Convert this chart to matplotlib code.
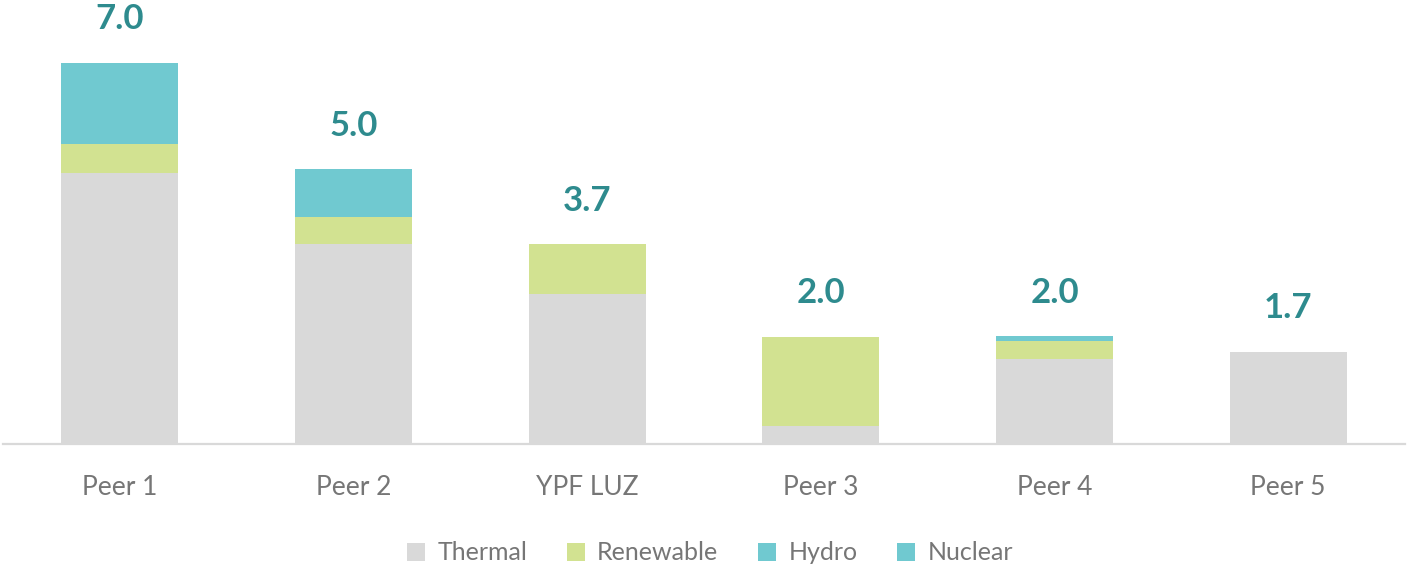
import matplotlib
matplotlib.use("Agg")
import matplotlib.pyplot as plt
import numpy as np

# data ---------------------------------------------------------------------
companies = ["Peer 1", "Peer 2", "YPF LUZ", "Peer 3", "Peer 4", "Peer 5"]
thermal = [4.98, 3.66, 2.74, 0.32, 1.55, 1.69]
renewable = [0.53, 0.50, 0.92, 1.64, 0.33, 0.0]
hydro = [1.49, 0.88, 0.0, 0.0, 0.09, 0.0]
nuclear = [0.0, 0.0, 0.0, 0.0, 0.0, 0.0]

# style --------------------------------------------------------------------
plt.rcParams["font.family"] = ["Lato", "DejaVu Sans"]
c_thermal = "#D9D9D9"
c_renew = "#D2E291"
c_hydro = "#70C9D0"
c_label = "#2E8B8E"
c_text = "#767676"

fig = plt.figure(figsize=(14.11, 5.73), dpi=100)
ax = fig.add_axes([3 / 1411, 129.5 / 573, 1402 / 1411, 443.5 / 573])

x = np.arange(len(companies))
w = 0.5
b1 = np.array(thermal)
b2 = b1 + np.array(renewable)
b3 = b2 + np.array(hydro)

ax.bar(x, thermal, w, color=c_thermal, label="Thermal")
ax.bar(x, renewable, w, bottom=b1, color=c_renew, label="Renewable")
ax.bar(x, hydro, w, bottom=b2, color=c_hydro, label="Hydro")
ax.bar(x, nuclear, w, bottom=b3, color=c_hydro, label="Nuclear")

# totals above each stack
totals = b3 + np.array(nuclear)
for xi, t in zip(x, totals):
    ax.annotate(f"{t:.1f}", (xi, t), xytext=(0, 20), textcoords="offset points",
                ha="center", va="bottom", fontsize=25, fontweight="bold",
                color=c_label)

ax.set_xlim(-0.5, 5.5)
ax.set_ylim(0, 443.5 / 54.4)
ax.set_xticks(x)
ax.set_xticklabels(companies, fontsize=19, color=c_text)
ax.tick_params(axis="x", length=0, pad=23)
ax.set_yticks([])
for s in ["top", "right", "left"]:
    ax.spines[s].set_visible(False)
ax.spines["bottom"].set_color(c_thermal)
ax.spines["bottom"].set_linewidth(1.6)

leg = fig.legend(loc="center", bbox_to_anchor=(710 / 1411, 1 - 553 / 573), ncol=4,
                 frameon=False, fontsize=18, handlelength=0.7, handleheight=0.7,
                 handletextpad=0.5, columnspacing=1.6)
for t in leg.get_texts():
    t.set_color(c_text)

fig.savefig("out.png", dpi=100)
